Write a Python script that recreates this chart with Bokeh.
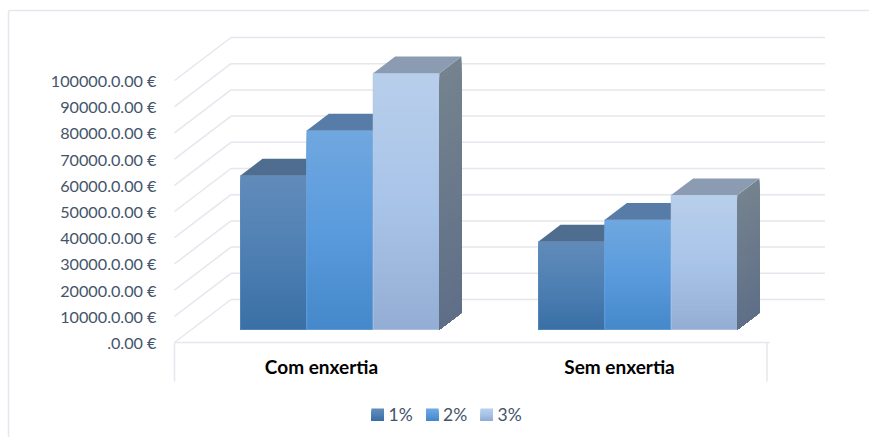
from bokeh.core.properties import value
from bokeh.embed import file_html
from bokeh.models import FixedTicker, LinearAxis, Range1d
from bokeh.plotting import figure
from bokeh.resources import INLINE

# Chart values
categories = ["Com enxertia", "Sem enxertia"]
series_names = ["1%", "2%", "3%"]
series_values = [
    [58800, 33600],
    [76000, 41900],
    [97800, 51300],
]
tick_values = [0, 10000, 20000, 30000, 40000, 50000, 60000, 70000, 80000, 90000, 100000]
tick_labels = [".0.00 €"] + [f"{v}.0.00 €" for v in tick_values[1:]]

# Colour ramps per series: top, middle, bottom of the front face
front_ramps = [
    ["#618bb9", "#4f80b3", "#3a70a6"],
    ["#70a7df", "#5a9bdd", "#4589cb"],
    ["#b8cfeb", "#a9c4e9", "#94add4"],
]
edge_colors = ["#5d8dc0", "#6ca4dc", "#b4c9e6"]
top_colors = ["#4f6d8f", "#567ca7", "#8b9cb2"]
side_ramp = ["#75838f", "#5f6f87"]
INK = "#44546a"
RULE = "#e4e7ed"
RULE_W = 1.5

W, H = 869, 437
CAT_PX = 298         # distance between the two bar groups
LEFT_PX = 174        # x of the front-left corner
FLOOR_PX = 342       # y of the front floor line
UNIT_PX = 0.00262    # pixels per euro

x_range = Range1d(-LEFT_PX / CAT_PX, (W - LEFT_PX) / CAT_PX)
y_range = Range1d((FLOOR_PX - H) / UNIT_PX, FLOOR_PX / UNIT_PX)


def dx(px):
    return px / CAT_PX


def dy(px):
    return px / UNIT_PX


def to_x(px):
    return x_range.start + px / CAT_PX


def to_y(px):
    return y_range.end - px / UNIT_PX


def mix(c1, c2, t):
    a = [int(c1[i:i + 2], 16) for i in (1, 3, 5)]
    b = [int(c2[i:i + 2], 16) for i in (1, 3, 5)]
    return "#%02x%02x%02x" % tuple(round(p + (q - p) * t) for p, q in zip(a, b))


def ramp(colors, t):
    # t runs from 0 at the top of a face to 1 at its bottom
    seg = min(int(t * (len(colors) - 1)), len(colors) - 2)
    local = t * (len(colors) - 1) - seg
    return mix(colors[seg], colors[seg + 1], local)


p = figure(
    width=W, height=H, output_backend="svg", toolbar_location=None,
    x_range=x_range, y_range=y_range, min_border=0,
    outline_line_color=None, background_fill_color="white",
)
p.grid.visible = False
p.xaxis.visible = False
p.yaxis.visible = False

# Chart frame: only its top and left edges fall inside the page
p.segment(x0=[to_x(8), to_x(8)], y0=[to_y(10), to_y(10)],
          x1=[to_x(8), to_x(W)], y1=[to_y(H), to_y(10)],
          line_color=RULE, line_width=RULE_W)

# Back wall: rules, with the side connectors on the left
WALL_DX, WALL_DY = dx(56.5), dy(43)
WALL_W = dx(594)
p.segment(
    x0=[0] * len(tick_values), y0=tick_values,
    x1=[WALL_DX] * len(tick_values), y1=[v + WALL_DY for v in tick_values],
    line_color=RULE, line_width=RULE_W,
)
p.segment(
    x0=[WALL_DX] * len(tick_values), y0=[v + WALL_DY for v in tick_values],
    x1=[WALL_DX + WALL_W] * len(tick_values), y1=[v + WALL_DY for v in tick_values],
    line_color=RULE, line_width=RULE_W,
)

# Floor drop lines below the category band
p.segment(x0=[0, dx(592.5)], y0=[0, 0], x1=[0, dx(592.5)], y1=[-dy(39)] * 2,
          line_color=RULE, line_width=RULE_W)

# Bars: front face, top face and right side
BAR_W = dx(66.3)
BAR_SHIFT_X, BAR_SHIFT_Y = dx(16.5), dy(13)
DEPTH_X, DEPTH_Y = dx(22), dy(16.7)
SLICES = 70
n_series = len(series_values)

for g in range(len(categories)):
    x_left = g + 0.5 + BAR_SHIFT_X - BAR_W * n_series / 2
    for s in range(n_series):
        x0, x1 = x_left + s * BAR_W, x_left + (s + 1) * BAR_W
        base = BAR_SHIFT_Y
        top = base + series_values[s][g]

        # Nested slices give the vertical gradient without seams
        tops = [top - (top - base) * i / SLICES for i in range(SLICES)]
        colors = [ramp(front_ramps[s], i / (SLICES - 1)) for i in range(SLICES)]
        p.quad(left=[x0] * SLICES, right=[x1] * SLICES, top=tops, bottom=[base] * SLICES,
               fill_color=colors, line_color=None)
        p.quad(left=[x0], right=[x1], top=[top], bottom=[base], fill_color=None,
               line_color=edge_colors[s], line_width=1, line_alpha=0.7)

        if s == n_series - 1:
            side_x, side_y, side_c = [], [], []
            for i in range(SLICES):
                t = tops[i]
                side_x.append([x1, x1 + DEPTH_X, x1 + DEPTH_X, x1])
                side_y.append([base, base + DEPTH_Y, t + DEPTH_Y, t])
                side_c.append(ramp(side_ramp, i / (SLICES - 1)))
            p.patches(side_x, side_y, fill_color=side_c, line_color=None)

        p.patch([x0, x0 + DEPTH_X, x1 + DEPTH_X, x1],
                [top, top + DEPTH_Y, top + DEPTH_Y, top],
                fill_color=top_colors[s], line_color=None)

# Value axis on the front-left edge
y_axis = LinearAxis(
    fixed_location=0,
    ticker=FixedTicker(ticks=tick_values),
    major_label_overrides={v: t for v, t in zip(tick_values, tick_labels)},
    major_label_text_font="Lato", major_label_text_font_size="16.2px",
    major_label_text_color=INK, major_label_standoff=12,
    major_tick_line_color=None, minor_tick_line_color=None, axis_line_color=None,
)
p.add_layout(y_axis, "left")

# Category axis along the floor
label_ticks = [g + 0.5 - dx(2) for g in range(len(categories))]
x_axis = LinearAxis(
    fixed_location=0, bounds=(0, dx(595)),
    ticker=FixedTicker(ticks=label_ticks),
    major_label_overrides={t: c for t, c in zip(label_ticks, categories)},
    major_label_text_font="Lato", major_label_text_font_size="19px",
    major_label_text_font_style="bold", major_label_text_color="#000000",
    major_label_standoff=6,
    major_tick_line_color=None, minor_tick_line_color=None,
    axis_line_color=RULE, axis_line_width=RULE_W,
)
p.add_layout(x_axis, "below")

# Legend
SWATCH_XS = [371, 425.5, 480]
SWATCH_PX = 12.5
LEGEND_TOP = 408

for s, name in enumerate(series_names):
    sx = SWATCH_XS[s]
    steps = 12
    p.quad(left=[to_x(sx)] * steps, right=[to_x(sx + SWATCH_PX)] * steps,
           top=[to_y(LEGEND_TOP + i) for i in range(steps)],
           bottom=[to_y(LEGEND_TOP + SWATCH_PX)] * steps,
           fill_color=[ramp(front_ramps[s], i / (steps - 1)) for i in range(steps)],
           line_color=None)
    p.text(x=[to_x(sx + 17)], y=[to_y(LEGEND_TOP + SWATCH_PX / 2)], text=[name],
           text_font=value("Lato"), text_font_size="17.5px", text_color=INK,
           text_baseline="middle", text_align="left")

open("out.html", "w").write(file_html(p, INLINE))
